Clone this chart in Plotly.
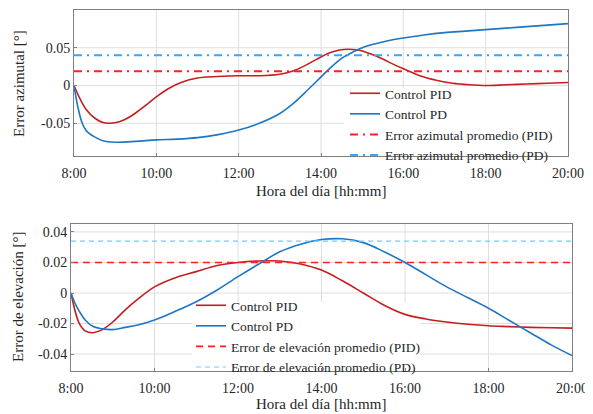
import plotly.graph_objects as go

# ---------- data ----------
hours_az = [8.0, 8.15, 8.3, 8.5, 8.7, 8.88, 9.1, 9.4, 9.7, 10.0, 10.3, 10.6, 11.0, 11.5, 12.0, 12.5, 13.0,
            13.3, 13.6, 13.9, 14.2, 14.45, 14.66, 14.9, 15.2, 15.5, 15.8, 16.1, 16.4, 16.8, 17.2, 17.6, 18.0,
            18.5, 19.0, 19.5, 20.0]
az_pid = [0.0, -0.018, -0.032, -0.043, -0.049, -0.050, -0.048, -0.040, -0.028, -0.015, -0.004, 0.004, 0.010,
          0.012, 0.013, 0.013, 0.015, 0.019, 0.026, 0.035, 0.043, 0.047, 0.048, 0.047, 0.042, 0.035, 0.027,
          0.020, 0.013, 0.007, 0.003, 0.001, 0.000, 0.001, 0.002, 0.003, 0.004]

hours_pd = [8.0, 8.1, 8.2, 8.3, 8.5, 8.7, 9.0, 9.5, 10.0, 10.5, 11.0, 11.5, 12.0, 12.5, 13.0, 13.3, 13.6,
            13.9, 14.2, 14.5, 14.8, 15.0, 15.3, 15.6, 16.0, 16.5, 17.0, 17.5, 18.0, 18.5, 19.0, 19.5, 20.0]
az_pd = [0.0, -0.030, -0.050, -0.060, -0.068, -0.073, -0.075, -0.074, -0.072, -0.071, -0.069, -0.065,
         -0.059, -0.050, -0.037, -0.025, -0.010, 0.006, 0.022, 0.036, 0.045, 0.050, 0.055, 0.059, 0.063,
         0.067, 0.070, 0.072, 0.074, 0.076, 0.078, 0.080, 0.082]

az_avg_pid = 0.019
az_avg_pd = 0.040

hours_el = [8.0, 8.1, 8.2, 8.35, 8.53, 8.75, 9.0, 9.3, 9.6, 10.0, 10.5, 11.0, 11.5, 12.0, 12.5, 13.0, 13.5,
            14.0, 14.5, 15.0, 15.5, 16.0, 16.5, 17.0, 17.5, 18.0, 18.5, 19.0, 19.5, 20.0]
el_pid = [0.0, -0.012, -0.020, -0.025, -0.026, -0.024, -0.019, -0.011, -0.004, 0.004, 0.010, 0.014, 0.018,
          0.020, 0.021, 0.021, 0.019, 0.015, 0.008, 0.000, -0.008, -0.014, -0.017, -0.019, -0.0205, -0.0215,
          -0.022, -0.0225, -0.0228, -0.023]
el_pd = [0.0, -0.007, -0.012, -0.018, -0.022, -0.0235, -0.024, -0.0225, -0.021, -0.0177, -0.012, -0.0057,
         0.002, 0.0107, 0.019, 0.027, 0.032, 0.035, 0.0355, 0.033, 0.027, 0.020, 0.012, 0.004, -0.003, -0.010,
         -0.018, -0.026, -0.034, -0.041]

el_avg_pid = 0.020
el_avg_pd = 0.034

tick_hours = [8, 10, 12, 14, 16, 18, 20]
tick_text = ["8:00", "10:00", "12:00", "14:00", "16:00", "18:00", "20:00"]
az_ticks = [-0.05, 0, 0.05, 0.1]
az_tick_text = ["-0.05", "0", "0.05", "0.1"]
el_ticks = [-0.04, -0.02, 0, 0.02, 0.04]
el_tick_text = ["-0.04", "-0.02", "0", "0.02", "0.04"]

# ---------- figure ----------
OFF = 8  # default page body margin
W, H = 593 - OFF, 414 - OFF
FONT = "Liberation Serif, Times New Roman, DejaVu Serif, serif"
TXT = "#262626"
RED_D = "#C41E1E"
BLUE = "#1F77C4"
RED_B = "#FF1F1F"
BLUE_L = "#33A8FF"
BLUE_LL = "#6CCBFF"
GRID = "#DEDEDE"

X_RANGE = [8, 20]
Y1_RANGE = [-0.0933, 0.1]
Y2_RANGE = [-0.0511, 0.0452]

# axes boxes in page pixels (left, right, top, bottom)
AX1 = (74, 568, 10, 156)
AX2 = (71, 572, 224, 371)
# legend boxes in page pixels (left, right, top, bottom) -> hide grid there
LB1 = (344, 568, 88, 156)
LB2 = (192, 420, 302, 371)


def px_x(p):
    return (p - OFF) / W


def px_y(p):
    return 1 - (p - OFF) / H


def grid_shapes(ax, lb, xref, yref, xticks, yticks, xr, yr):
    lx0 = (lb[0] - ax[0]) / (ax[1] - ax[0])
    lx1 = (lb[1] - ax[0]) / (ax[1] - ax[0])
    ly1 = (ax[3] - lb[2]) / (ax[3] - ax[2])
    out = []
    for t in xticks:
        d = (t - xr[0]) / (xr[1] - xr[0])
        if d <= 0.001 or d >= 0.999:
            continue
        y0 = ly1 if lx0 <= d <= lx1 else 0
        out.append(dict(type="line", xref=xref + " domain", yref=yref + " domain", x0=d, x1=d, y0=y0, y1=1,
                        line=dict(color=GRID, width=1), layer="below"))
    for t in yticks:
        d = (t - yr[0]) / (yr[1] - yr[0])
        if d <= 0.001 or d >= 0.999:
            continue
        if d < ly1:
            segs = [(0, lx0), (lx1, 1)]
        else:
            segs = [(0, 1)]
        for a, b in segs:
            if b - a > 0.001:
                out.append(dict(type="line", xref=xref + " domain", yref=yref + " domain", x0=a, x1=b,
                                y0=d, y1=d, line=dict(color=GRID, width=1), layer="below"))
    return out


fig = go.Figure()
fig.add_trace(go.Scatter(x=hours_az, y=az_pid, mode="lines", line=dict(color=RED_D, width=1.6, shape="spline"),
                         name="Control PID", legend="legend", xaxis="x", yaxis="y"))
fig.add_trace(go.Scatter(x=hours_pd, y=az_pd, mode="lines", line=dict(color=BLUE, width=1.6, shape="spline"),
                         name="Control PD", legend="legend", xaxis="x", yaxis="y"))
fig.add_trace(go.Scatter(x=[8, 20], y=[az_avg_pid, az_avg_pid], mode="lines",
                         line=dict(color=RED_B, width=2, dash="8px,5px,2px,5px"),
                         name="Error azimutal promedio (PID)", legend="legend", xaxis="x", yaxis="y"))
fig.add_trace(go.Scatter(x=[8, 20], y=[az_avg_pd, az_avg_pd], mode="lines",
                         line=dict(color=BLUE_L, width=2, dash="8px,5px,2px,5px"),
                         name="Error azimutal promedio (PD)", legend="legend", xaxis="x", yaxis="y"))

fig.add_trace(go.Scatter(x=hours_el, y=el_pid, mode="lines", line=dict(color=RED_D, width=1.6, shape="spline"),
                         name="Control PID", legend="legend2", xaxis="x2", yaxis="y2"))
fig.add_trace(go.Scatter(x=hours_el, y=el_pd, mode="lines", line=dict(color=BLUE, width=1.6, shape="spline"),
                         name="Control PD", legend="legend2", xaxis="x2", yaxis="y2"))
fig.add_trace(go.Scatter(x=[8, 20], y=[el_avg_pid, el_avg_pid], mode="lines",
                         line=dict(color=RED_B, width=1.6, dash="7px,5px"),
                         name="Error de elevación promedio (PID)", legend="legend2", xaxis="x2", yaxis="y2"))
fig.add_trace(go.Scatter(x=[8, 20], y=[el_avg_pd, el_avg_pd], mode="lines",
                         line=dict(color=BLUE_LL, width=1.1, dash="5px,4px"),
                         name="Error de elevación promedio (PD)", legend="legend2", xaxis="x2", yaxis="y2"))

axis_common = dict(showgrid=False, showline=True, linecolor="#7F7F7F",
                   linewidth=1, mirror=True, ticks="inside", ticklen=3, tickcolor="#7F7F7F",
                   zeroline=False, automargin=False, tickfont=dict(family=FONT, size=14, color=TXT))

shapes = (grid_shapes(AX1, LB1, "x", "y", tick_hours, az_ticks, X_RANGE, Y1_RANGE)
          + grid_shapes(AX2, LB2, "x2", "y2", tick_hours, el_ticks, X_RANGE, Y2_RANGE))

title_font = dict(family=FONT, size=15, color=TXT)
leg_font = dict(family=FONT, size=13.5, color=TXT)

fig.update_layout(
    width=W, height=H, autosize=False,
    margin=dict(l=0, r=0, t=0, b=0),
    paper_bgcolor="white", plot_bgcolor="white",
    font=dict(family=FONT, size=14, color=TXT),
    xaxis=dict(domain=[px_x(AX1[0]), px_x(AX1[1])], range=X_RANGE, tickvals=tick_hours, ticktext=tick_text,
               anchor="y", ticklabelstandoff=4, **axis_common),
    yaxis=dict(domain=[px_y(AX1[3]), px_y(AX1[2])], range=Y1_RANGE, tickvals=az_ticks,
               ticktext=az_tick_text, anchor="x", **axis_common),
    xaxis2=dict(domain=[px_x(AX2[0]), px_x(AX2[1])], range=X_RANGE, tickvals=tick_hours, ticktext=tick_text,
                anchor="y2", ticklabelstandoff=4, **axis_common),
    yaxis2=dict(domain=[px_y(AX2[3]), px_y(AX2[2])], range=Y2_RANGE, tickvals=el_ticks,
                ticktext=el_tick_text, anchor="x2", **axis_common),
    legend=dict(x=px_x(345), y=px_y(78), xanchor="left", yanchor="top", bgcolor="rgba(0,0,0,0)",
                borderwidth=0, font=leg_font, tracegroupgap=0, itemwidth=30),
    legend2=dict(x=px_x(191), y=px_y(290), xanchor="left", yanchor="top", bgcolor="rgba(0,0,0,0)",
                 borderwidth=0, font=leg_font, tracegroupgap=0, itemwidth=30),
    shapes=shapes,
    annotations=[
        dict(text="Error azimutal [°]", x=px_x(19), y=px_y(84), xref="paper", yref="paper",
             xanchor="center", yanchor="middle",
             showarrow=False, textangle=-90, font=title_font),
        dict(text="Hora del día [hh:mm]", x=px_x(321), y=px_y(191), xref="paper", yref="paper",
             xanchor="center", yanchor="middle", showarrow=False, font=title_font),
        dict(text="Error de elevación [°]", x=px_x(18), y=px_y(297), xref="paper", yref="paper",
             xanchor="center", yanchor="middle",
             showarrow=False, textangle=-90, font=title_font),
        dict(text="Hora del día [hh:mm]", x=px_x(321), y=px_y(404), xref="paper", yref="paper",
             xanchor="center", yanchor="middle", showarrow=False, font=title_font),
    ],
)

fig.write_html("out.html")
